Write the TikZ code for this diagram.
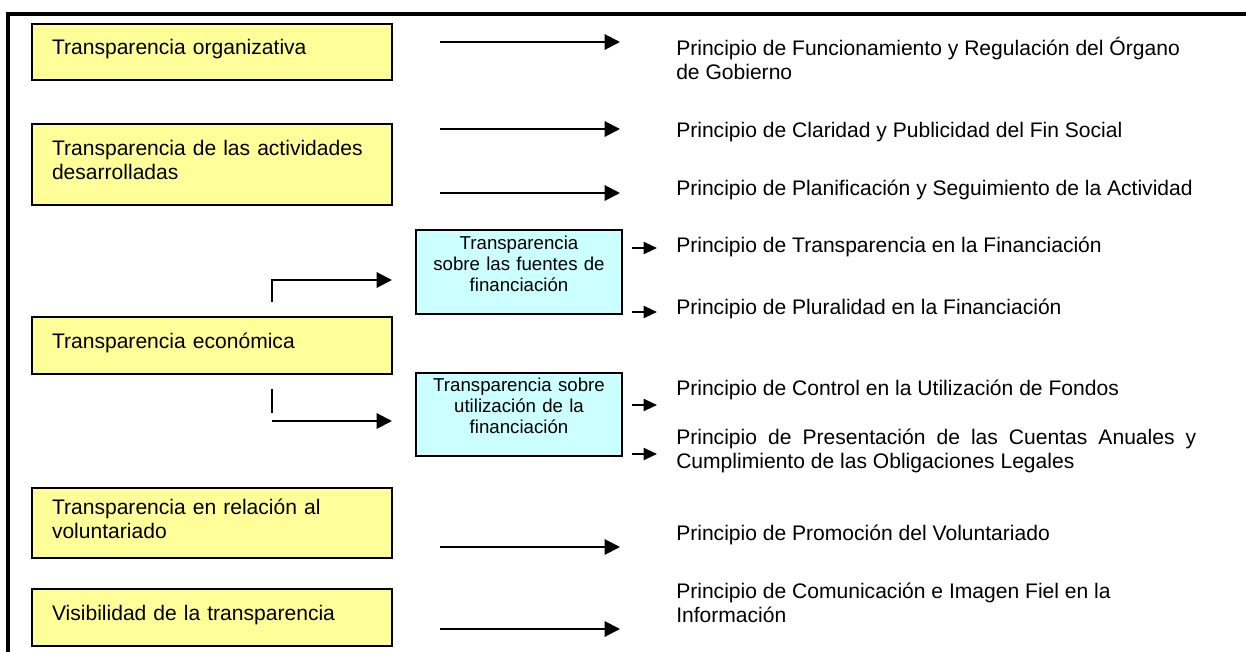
\documentclass[tikz,border=0pt]{standalone}
\usepackage{fontspec}
\setmainfont{Liberation Sans}
\usetikzlibrary{arrows.meta}
\definecolor{paleyellow}{HTML}{FFFF99}
\definecolor{palecyan}{HTML}{CCFFFF}
\tikzset{
    area-box/.style = {draw=black, fill=paleyellow, line width=1.5pt, rectangle, text width=240pt, align=left, inner xsep=15pt, font=\fontsize{15.8}{18}\selectfont, execute at end node={\rule[-7pt]{0pt}{0pt}}},
    sub-box/.style = {draw=black, fill=palecyan, line width=1.5pt, rectangle, text width=140pt, inner xsep=7.25pt, align=center, font=\fontsize{14}{15.8}\selectfont, execute at end node={\rule[-13pt]{0pt}{0pt}}},
    principle/.style = {anchor=west, align=left, inner sep=0pt, font=\fontsize{15.8}{18}\selectfont},
    long-arrow/.style = {line width=1.5pt, -{Triangle[length=11.5pt, width=11.5pt]}},
    short-arrow/.style = {line width=1.5pt, -{Triangle[length=10pt, width=9pt]}},
}

\begin{document}
\begin{tikzpicture}[x=0.75pt, y=-0.75pt]
\useasboundingbox (0,0) rectangle (1246,652);
\draw[line width=2.4pt] (8,652) -- (8,14) -- (1246,14);

% areas
\node[area-box, minimum height=42pt] (organizativa) at (212,52) {Transparencia organizativa};
\node[area-box, minimum height=60.75pt] (actividades) at (212,164.5) {Transparencia de las actividades\\desarrolladas};
\node[area-box, minimum height=42.75pt] (economica) at (212,345.5) {Transparencia económica};
\node[area-box, minimum height=52.5pt] (voluntariado) at (212,523) {Transparencia en relación al\\voluntariado};
\node[area-box, minimum height=42.75pt] (visibilidad) at (212,617.5) {Visibilidad de la transparencia};

% sub-areas of the economic one
\node[sub-box, minimum height=63pt] (fuentes) at (519,272) {Transparencia\\sobre las fuentes de\\financiación};
\node[sub-box, minimum height=62.25pt] (utilizacion) at (519,414.5) {Transparencia sobre\\utilización de la\\financiación};

% principles
\node[principle] (p-organo) at (676,58) {Principio de Funcionamiento y Regulación del Órgano\\de Gobierno};
\node[principle] (p-fin) at (676,132) {Principio de Claridad y Publicidad del Fin Social};
\node[principle] (p-planificacion) at (676,190) {Principio de Planificación y Seguimiento de la Actividad};
\node[principle] (p-transparencia) at (676,247) {Principio de Transparencia en la Financiación};
\node[principle] (p-pluralidad) at (676,309) {Principio de Pluralidad en la Financiación};
\node[principle] (p-control) at (676,390) {Principio de Control en la Utilización de Fondos};
\node[principle] (p-cuentas) at (676,451) {\makebox[390pt][s]{Principio de Presentación de las Cuentas Anuales y}\\Cumplimiento de las Obligaciones Legales};
\node[principle] (p-voluntariado) at (676,535) {Principio de Promoción del Voluntariado};
\node[principle] (p-imagen) at (676,603) {Principio de Comunicación e Imagen Fiel en la\\Información};

% long arrows
\coordinate (organo-from) at (440,42);
\coordinate (organo-to) at (620,42);
\coordinate (fin-from) at (440,129);
\coordinate (fin-to) at (620,129);
\coordinate (planificacion-from) at (440,193);
\coordinate (planificacion-to) at (620,193);
\coordinate (voluntariado-from) at (440,547);
\coordinate (voluntariado-to) at (620,547);
\coordinate (imagen-from) at (440,629);
\coordinate (imagen-to) at (620,629);
\draw[long-arrow] (organo-from) -- (organo-to);
\draw[long-arrow] (fin-from) -- (fin-to);
\draw[long-arrow] (planificacion-from) -- (planificacion-to);
\draw[long-arrow] (voluntariado-from) -- (voluntariado-to);
\draw[long-arrow] (imagen-from) -- (imagen-to);

% from the economic box
\coordinate (fuentes-from) at (272,302);
\coordinate (fuentes-to) at (392,280);
\draw[long-arrow] (fuentes-from) |- (fuentes-to);
\coordinate (tick-top) at (272,389);
\coordinate (tick-bottom) at (272,413);
\draw[line width=1.5pt] (tick-top) -- (tick-bottom);
\coordinate (utilizacion-from) at (272,421);
\coordinate (utilizacion-to) at (392,421);
\draw[long-arrow] (utilizacion-from) -- (utilizacion-to);

% short arrows
\coordinate (transparencia-from) at (632,248);
\coordinate (pluralidad-from) at (632,312);
\coordinate (control-from) at (632,405);
\coordinate (cuentas-from) at (632,454);
\draw[short-arrow] (transparencia-from) -- +(25,0);
\draw[short-arrow] (pluralidad-from) -- +(25,0);
\draw[short-arrow] (control-from) -- +(25,0);
\draw[short-arrow] (cuentas-from) -- +(25,0);
\end{tikzpicture}
\end{document}
